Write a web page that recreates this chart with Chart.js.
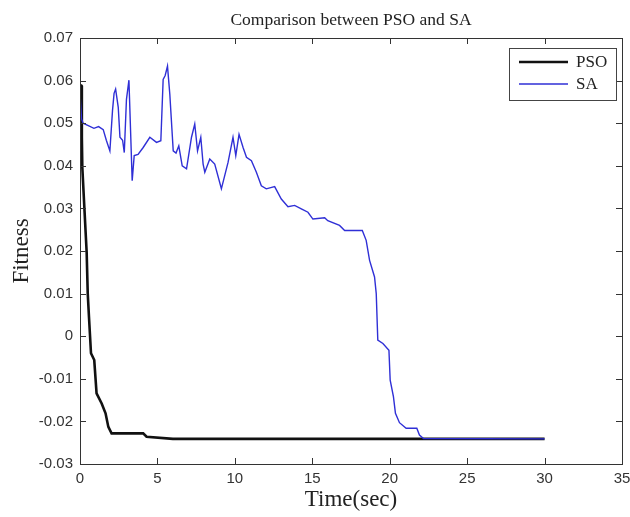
<!DOCTYPE html>
<html lang="en">
<head>
<meta charset="UTF-8">
<title>Comparison between PSO and SA</title>
<script src="https://cdn.jsdelivr.net/npm/chart.js"></script>
<style>
  body { margin: 0; background: #fff; }
  canvas { display: block; }
</style>
</head>
<body>
<canvas id="grafico" width="630" height="517"></canvas>
<script>
// PSO curve (black)
const psoTime = [0, 0.1, 0.12, 0.15, 0.28, 0.43, 0.5, 0.58, 0.71, 0.92, 1.07, 1.4, 1.65, 1.83, 2.04, 4.08, 4.3, 6, 30];
const psoFitness = [0.059, 0.0588, 0.0467, 0.0396, 0.0303, 0.0197, 0.01, 0.0045, -0.004, -0.0056, -0.0134, -0.0158, -0.0181, -0.0213, -0.0228, -0.0228, -0.0236, -0.0241, -0.0241];

// SA curve (blue)
const saTime = [0, 0.1, 0.2, 0.5, 0.9, 1.2, 1.5, 1.7, 1.93, 2.1, 2.2, 2.3, 2.47, 2.58, 2.75, 2.86, 3.0, 3.16, 3.25, 3.37,
  3.5, 3.75, 4.08, 4.51, 4.94, 5.22, 5.37, 5.5, 5.65, 5.8, 6.02, 6.2, 6.38, 6.6, 6.88, 7.2, 7.41, 7.59, 7.8, 7.95,
  8.06, 8.38, 8.7, 9.13, 9.56, 9.88, 10.06, 10.27, 10.53, 10.75, 11.07, 11.39, 11.71, 12.03, 12.57, 13.0, 13.43, 13.86, 14.29, 14.72,
  15.04, 15.8, 16.0, 16.76, 17.09, 18.23, 18.48, 18.7, 19.02, 19.13, 19.23, 19.56, 19.95, 20.03, 20.24, 20.37, 20.63, 21.06, 21.75, 21.92,
  22.18, 30];
const saFitness = [0.057, 0.051, 0.05, 0.0495, 0.0488, 0.0492, 0.0485, 0.046, 0.0435, 0.053, 0.057, 0.058, 0.0537, 0.0467, 0.046, 0.0431, 0.0556, 0.0601, 0.05, 0.0365,
  0.0424, 0.0427, 0.0443, 0.0467, 0.0455, 0.0459, 0.0603, 0.0612, 0.0634, 0.0568, 0.0435, 0.043, 0.0447, 0.04, 0.0393, 0.0467, 0.0498, 0.0435, 0.0467, 0.0404,
  0.0385, 0.0416, 0.0404, 0.0346, 0.0408, 0.0467, 0.0424, 0.0474, 0.0443, 0.042, 0.0412, 0.0385, 0.0353, 0.0346, 0.0351, 0.0322, 0.0304, 0.0307, 0.0299, 0.0291,
  0.0275, 0.0278, 0.0271, 0.026, 0.0248, 0.0248, 0.0225, 0.0178, 0.0139, 0.01, -0.0009, -0.0017, -0.0033, -0.0103, -0.0142, -0.0181, -0.0203, -0.0216, -0.0216, -0.0232,
  -0.024, -0.0241];

const xTicks = [0, 5, 10, 15, 20, 25, 30, 35];
const yTicks = [-0.03, -0.02, -0.01, 0, 0.01, 0.02, 0.03, 0.04, 0.05, 0.06, 0.07];

function toPoints(xs, ys) {
  return xs.map((x, i) => ({ x: x, y: ys[i] }));
}

// Matlab style: closed box with inward ticks on all four sides
const cajaPlugin = {
  id: 'caja',
  afterDatasetsDraw(chart) {
    const { ctx, chartArea: a, scales } = chart;
    const len = 6;
    ctx.save();
    ctx.strokeStyle = '#333';
    ctx.lineWidth = 1;
    ctx.beginPath();
    scales.x.ticks.forEach(t => {
      const px = Math.round(scales.x.getPixelForValue(t.value)) + 0.5;
      ctx.moveTo(px, a.bottom); ctx.lineTo(px, a.bottom - len);
      ctx.moveTo(px, a.top); ctx.lineTo(px, a.top + len);
    });
    scales.y.ticks.forEach(t => {
      const py = Math.round(scales.y.getPixelForValue(t.value)) + 0.5;
      ctx.moveTo(a.left, py); ctx.lineTo(a.left + len, py);
      ctx.moveTo(a.right, py); ctx.lineTo(a.right - len, py);
    });
    ctx.stroke();
    ctx.strokeRect(Math.round(a.left) + 0.5, Math.round(a.top) + 0.5, Math.round(a.right - a.left), Math.round(a.bottom - a.top));
    ctx.restore();
  }
};

// legend box inside the top right corner
const leyendaPlugin = {
  id: 'leyenda',
  afterDraw(chart) {
    const { ctx, chartArea: a } = chart;
    const w = 107, h = 52;
    const x0 = a.right - w - 6, y0 = a.top + 10;
    ctx.save();
    ctx.fillStyle = '#fff';
    ctx.fillRect(x0, y0, w, h);
    ctx.strokeStyle = '#444';
    ctx.lineWidth = 1;
    ctx.strokeRect(Math.round(x0) + 0.5, Math.round(y0) + 0.5, w, h);
    ctx.font = '17px "Liberation Serif", "Times New Roman", serif';
    ctx.textBaseline = 'middle';
    ['PSO', 'SA'].forEach((name, i) => {
      const ds = chart.data.datasets.find(d => d.label === name);
      const ly = y0 + 14 + i * 22;
      ctx.strokeStyle = ds.borderColor;
      ctx.lineWidth = ds.borderWidth;
      ctx.beginPath();
      ctx.moveTo(x0 + 10, ly);
      ctx.lineTo(x0 + 59, ly);
      ctx.stroke();
      ctx.fillStyle = '#222';
      ctx.fillText(name, x0 + 67, ly + 1);
    });
    ctx.restore();
  }
};

const ctx = document.getElementById('grafico').getContext('2d');
const chart = new Chart(ctx, {
  type: 'line',
  data: {
    datasets: [
      {
        label: 'PSO',
        data: toPoints(psoTime, psoFitness),
        borderColor: '#111',
        borderWidth: 2.6,
        pointRadius: 0,
        tension: 0,
        order: 1
      },
      {
        label: 'SA',
        data: toPoints(saTime, saFitness),
        borderColor: '#2f2fd6',
        borderWidth: 1.4,
        pointRadius: 0,
        tension: 0,
        order: 0
      }
    ]
  },
  options: {
    responsive: false,
    animation: false,
    layout: { padding: { left: 0, right: 0, top: 0, bottom: 0 } },
    scales: {
      x: {
        type: 'linear',
        min: 0,
        max: 35,
        afterBuildTicks: s => { s.ticks = xTicks.map(v => ({ value: v })); },
        afterFit: s => { s.height = 53; s.paddingRight = 8; },
        grid: { display: false, drawTicks: false },
        border: { display: false },
        ticks: {
          padding: 6,
          color: '#333',
          font: { family: '"Liberation Sans", Arial, sans-serif', size: 15 },
          maxRotation: 0,
          callback: v => String(v)
        },
        title: {
          display: true,
          text: 'Time(sec)',
          color: '#222',
          font: { family: '"Liberation Serif", "Times New Roman", serif', size: 23 },
          padding: { top: 0, bottom: 3 }
        }
      },
      y: {
        type: 'linear',
        min: -0.03,
        max: 0.07,
        afterBuildTicks: s => { s.ticks = yTicks.map(v => ({ value: v })); },
        afterFit: s => { s.width = 80; },
        grid: { display: false, drawTicks: false },
        border: { display: false },
        ticks: {
          padding: 7,
          color: '#333',
          font: { family: '"Liberation Sans", Arial, sans-serif', size: 15 },
          callback: v => (Math.abs(v) < 1e-9 ? '0' : v.toFixed(2))
        },
        title: {
          display: true,
          text: 'Fitness',
          color: '#222',
          font: { family: '"Liberation Serif", "Times New Roman", serif', size: 23 },
          padding: { top: 8, bottom: 0 }
        }
      }
    },
    plugins: {
      legend: { display: false },
      tooltip: { enabled: false },
      title: {
        display: true,
        fullSize: false,
        text: 'Comparison between PSO and SA',
        color: '#222',
        font: { family: '"Liberation Serif", "Times New Roman", serif', size: 17.5, weight: 'normal' },
        padding: { top: 10, bottom: 7 }
      }
    }
  },
  plugins: [cajaPlugin, leyendaPlugin]
});
</script>
</body>
</html>
